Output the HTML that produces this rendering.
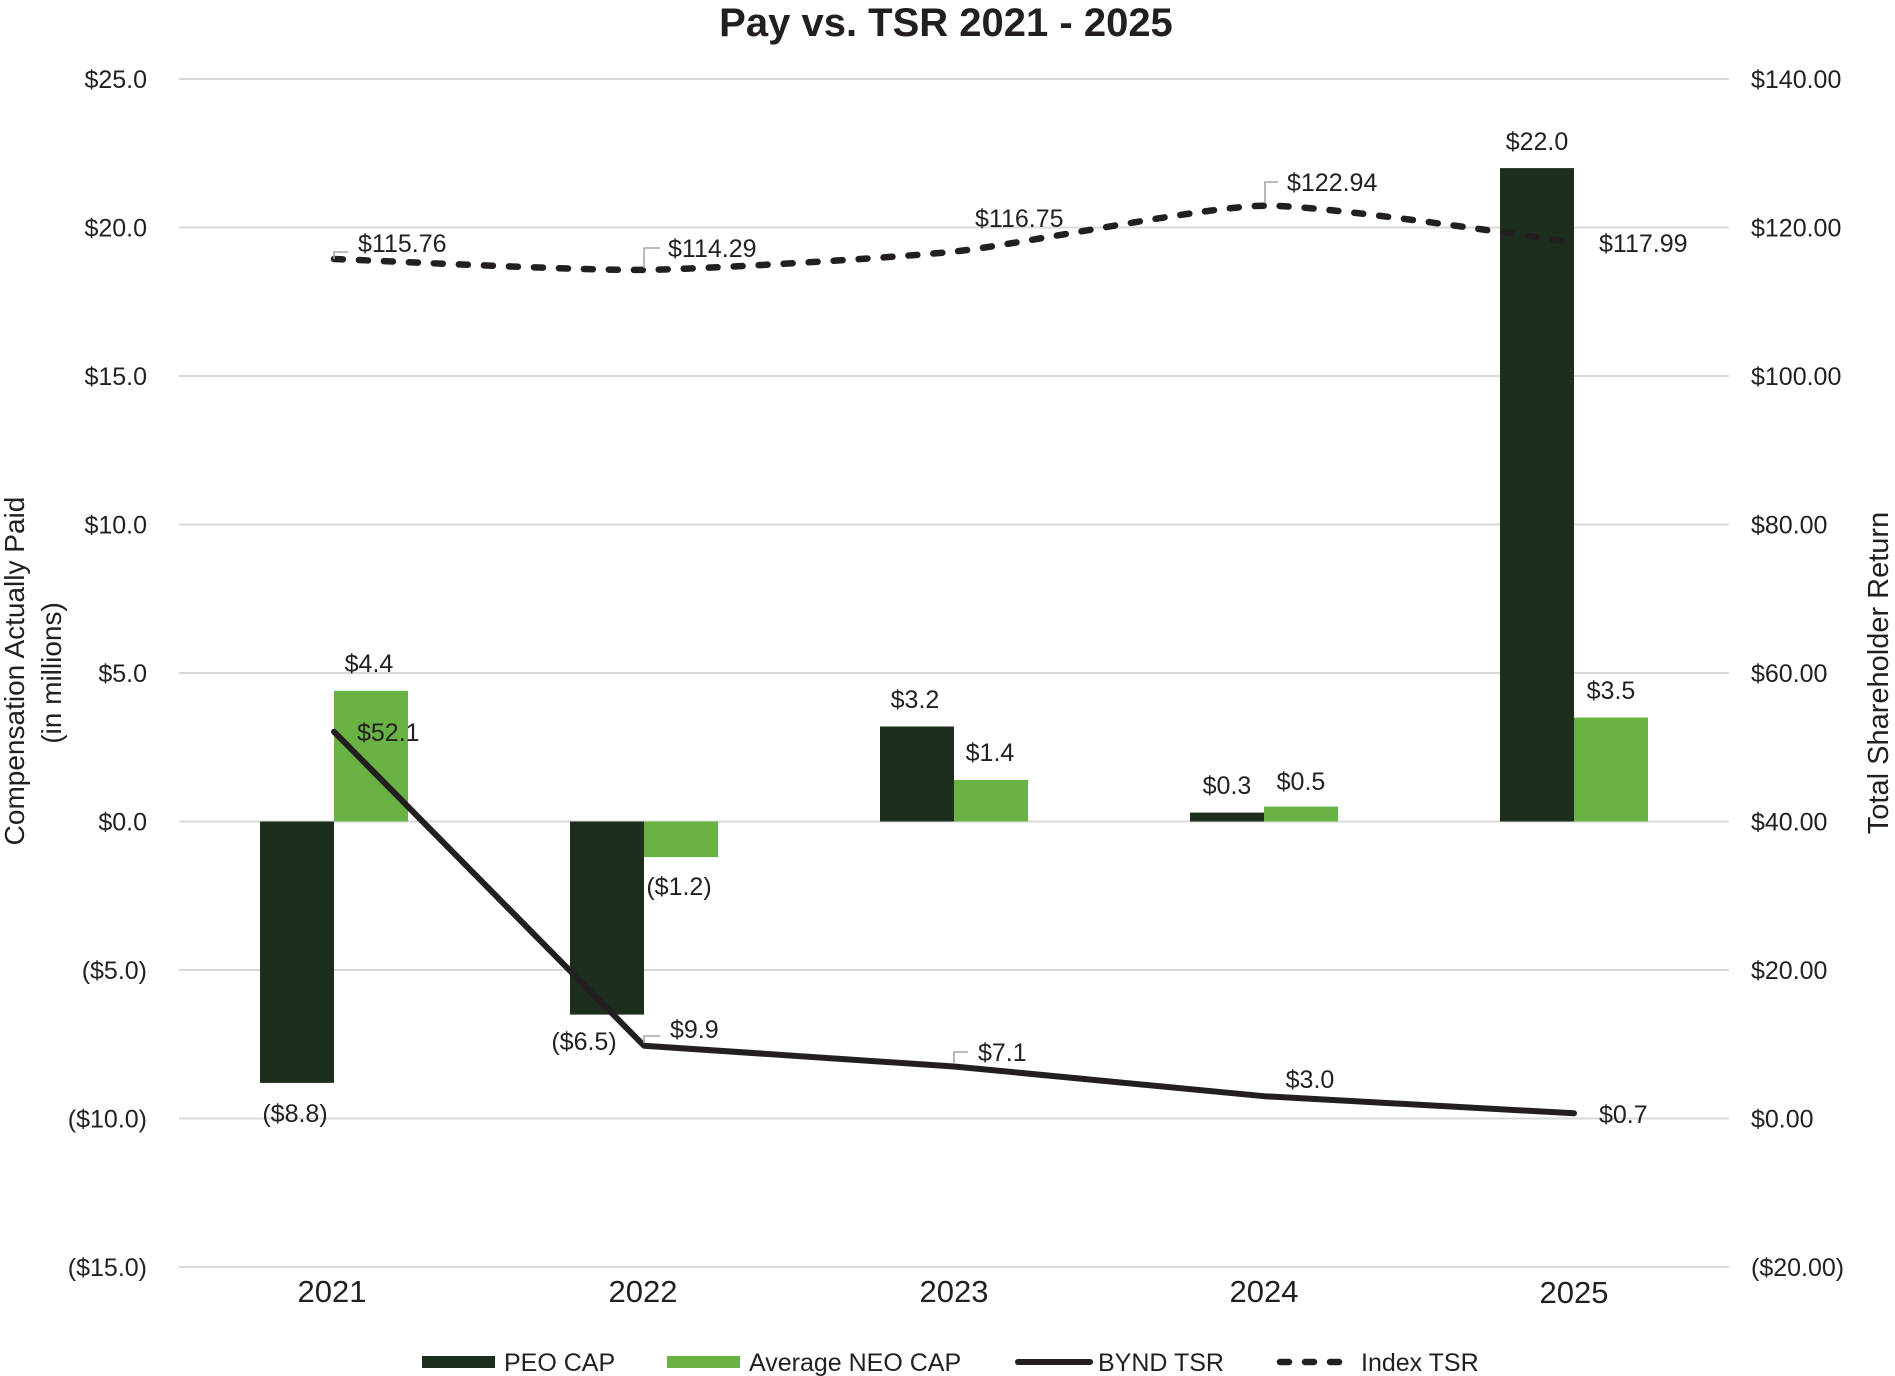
<!DOCTYPE html>
<html>
<head>
<meta charset="utf-8">
<style>
  html, body { margin:0; padding:0; background:#ffffff; }
  body { width:1895px; height:1376px; overflow:hidden; }
  svg { display:block; }
  text { font-family: "Liberation Sans", Arial, sans-serif; fill:#231f20; }
</style>
</head>
<body>
<svg width="1895" height="1376" viewBox="0 0 1895 1376" xmlns="http://www.w3.org/2000/svg">
  <rect x="0" y="0" width="1895" height="1376" fill="#ffffff"/>

  <!-- Title -->
  <text x="946" y="36" font-size="40" font-weight="bold" text-anchor="middle">Pay vs. TSR 2021 - 2025</text>

  <!-- Gridlines -->
  <g stroke="#d9d9d9" stroke-width="2">
    <line x1="179" y1="79" x2="1729" y2="79"/>
    <line x1="179" y1="227.5" x2="1729" y2="227.5"/>
    <line x1="179" y1="376" x2="1729" y2="376"/>
    <line x1="179" y1="524.5" x2="1729" y2="524.5"/>
    <line x1="179" y1="673" x2="1729" y2="673"/>
    <line x1="179" y1="821.5" x2="1729" y2="821.5"/>
    <line x1="179" y1="970" x2="1729" y2="970"/>
    <line x1="179" y1="1118.5" x2="1729" y2="1118.5"/>
    <line x1="179" y1="1267" x2="1729" y2="1267"/>
  </g>

  <!-- Left axis labels -->
  <g font-size="25" text-anchor="end">
    <text x="147" y="88">$25.0</text>
    <text x="147" y="236.5">$20.0</text>
    <text x="147" y="385">$15.0</text>
    <text x="147" y="533.5">$10.0</text>
    <text x="147" y="682">$5.0</text>
    <text x="147" y="830.5">$0.0</text>
    <text x="147" y="979">($5.0)</text>
    <text x="147" y="1127.5">($10.0)</text>
    <text x="147" y="1276">($15.0)</text>
  </g>

  <!-- Right axis labels -->
  <g font-size="25" text-anchor="start">
    <text x="1751" y="88">$140.00</text>
    <text x="1751" y="236.5">$120.00</text>
    <text x="1751" y="385">$100.00</text>
    <text x="1751" y="533.5">$80.00</text>
    <text x="1751" y="682">$60.00</text>
    <text x="1751" y="830.5">$40.00</text>
    <text x="1751" y="979">$20.00</text>
    <text x="1751" y="1127.5">$0.00</text>
    <text x="1751" y="1276">($20.00)</text>
  </g>

  <!-- Axis titles -->
  <g text-anchor="middle">
    <text font-size="28" transform="translate(24,671) rotate(-90)">Compensation Actually Paid</text>
    <text font-size="28" transform="translate(61,673) rotate(-90)">(in millions)</text>
    <text font-size="29" transform="translate(1888,673) rotate(-90)">Total Shareholder Return</text>
  </g>

  <!-- Category labels -->
  <g font-size="31" text-anchor="middle">
    <text x="332" y="1302">2021</text>
    <text x="643" y="1302">2022</text>
    <text x="954" y="1302">2023</text>
    <text x="1264" y="1302">2024</text>
    <text x="1574" y="1303">2025</text>
  </g>

  <!-- PEO CAP bars -->
  <g fill="#1c2e1c">
    <rect x="260" y="821.5" width="74" height="261.4"/>
    <rect x="570" y="821.5" width="74" height="193.1"/>
    <rect x="880" y="726.5" width="74" height="95"/>
    <rect x="1190" y="812.6" width="74" height="8.9"/>
    <rect x="1500" y="168.1" width="74" height="653.4"/>
  </g>
  <!-- Average NEO CAP bars -->
  <g fill="#69b345">
    <rect x="334" y="690.8" width="74" height="130.7"/>
    <rect x="644" y="821.5" width="74" height="35.6"/>
    <rect x="954" y="779.9" width="74" height="41.6"/>
    <rect x="1264" y="806.6" width="74" height="14.9"/>
    <rect x="1574" y="717.5" width="74" height="104"/>
  </g>

  <!-- BYND TSR line -->
  <polyline points="334,731.7 644,1045.7 954,1066.5 1264,1096.2 1574,1113.3"
            fill="none" stroke="#231f20" stroke-width="6" stroke-linejoin="round" stroke-linecap="round"/>

  <!-- Index TSR dashed smooth line -->
  <path d="M334,259 C365,260.09 582,270.64 644,269.9 C706,269.16 892,258.02 954,251.6 C1016,245.18 1202,206.62 1264,205.7 C1326,204.78 1543,238.73 1574,242.4"
        fill="none" stroke="#231f20" stroke-width="6.5" stroke-dasharray="9 16" stroke-linecap="round"/>

  <!-- Leader lines -->
  <g stroke="#a6a6a6" stroke-width="1.6" fill="none">
    <polyline points="334,259 334,252 348,252"/>
    <polyline points="644,268 644,248 660,248"/>
    <polyline points="1265,203 1265,182 1278,182"/>
    <polyline points="644,1043 644,1036 660,1036"/>
    <polyline points="954,1063 954,1052 968,1052"/>
  </g>

  <!-- Bar data labels -->
  <g font-size="25" text-anchor="middle">
    <text x="369" y="672">$4.4</text>
    <text x="295" y="1122">($8.8)</text>
    <text x="679" y="895">($1.2)</text>
    <text x="584" y="1050">($6.5)</text>
    <text x="915" y="708">$3.2</text>
    <text x="990" y="761">$1.4</text>
    <text x="1227" y="794">$0.3</text>
    <text x="1301" y="790">$0.5</text>
    <text x="1537" y="150">$22.0</text>
    <text x="1611" y="699">$3.5</text>
    <text x="1310" y="1088">$3.0</text>
  </g>
  <!-- Line data labels -->
  <g font-size="25" text-anchor="start">
    <text x="357" y="741">$52.1</text>
    <text x="670" y="1038">$9.9</text>
    <text x="978" y="1061">$7.1</text>
    <text x="1599" y="1123">$0.7</text>
    <text x="358" y="252">$115.76</text>
    <text x="668" y="257">$114.29</text>
    <text x="975" y="227">$116.75</text>
    <text x="1287" y="191">$122.94</text>
    <text x="1599" y="252">$117.99</text>
  </g>

  <!-- Legend -->
  <rect x="422" y="1356" width="73" height="12" fill="#1c2e1c"/>
  <text x="504" y="1371" font-size="25">PEO CAP</text>
  <rect x="667" y="1356" width="73" height="12" fill="#69b345"/>
  <text x="749" y="1371" font-size="25">Average NEO CAP</text>
  <line x1="1018" y1="1362" x2="1090" y2="1362" stroke="#231f20" stroke-width="6" stroke-linecap="round"/>
  <text x="1098" y="1371" font-size="25">BYND TSR</text>
  <line x1="1280" y1="1362" x2="1346" y2="1362" stroke="#231f20" stroke-width="6.5" stroke-dasharray="9 16" stroke-linecap="round"/>
  <text x="1361" y="1371" font-size="25">Index TSR</text>
</svg>
</body>
</html>
